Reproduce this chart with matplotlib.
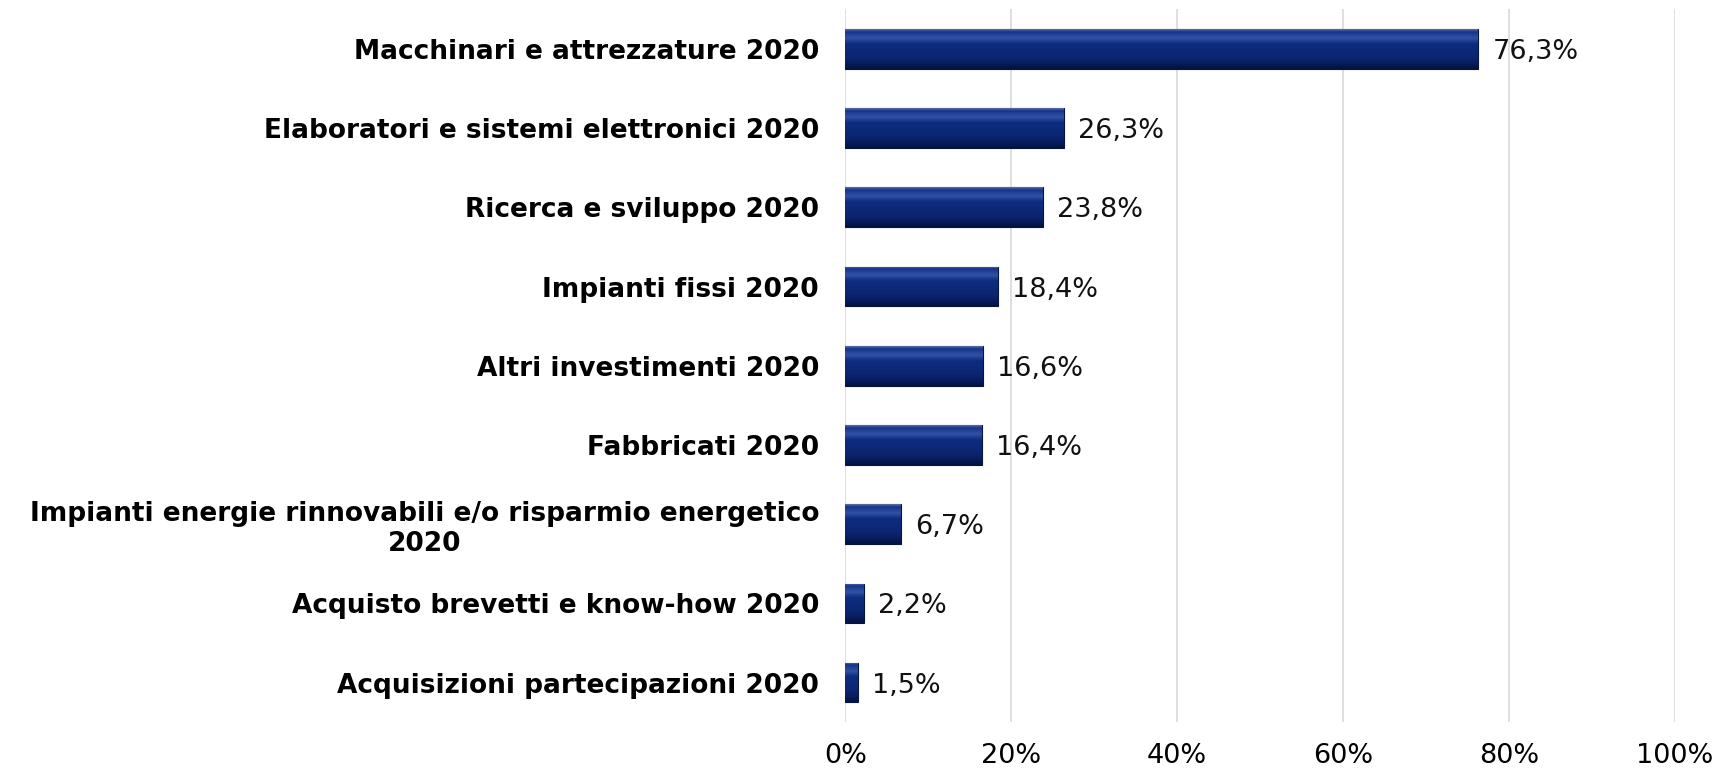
"""Horizontal bar chart: investimenti 2020 (quota % di imprese)."""
import matplotlib
matplotlib.use('Agg')
import matplotlib.pyplot as plt
import numpy as np
from matplotlib.colors import LinearSegmentedColormap

# Data
categories = [
    'Macchinari e attrezzature 2020',
    'Elaboratori e sistemi elettronici 2020',
    'Ricerca e sviluppo 2020',
    'Impianti fissi 2020',
    'Altri investimenti 2020',
    'Fabbricati 2020',
    'Impianti energie rinnovabili e/o risparmio energetico\n2020',
    'Acquisto brevetti e know-how 2020',
    'Acquisizioni partecipazioni 2020',
]
values = [76.3, 26.3, 23.8, 18.4, 16.6, 16.4, 6.7, 2.2, 1.5]
x_ticks = [0, 20, 40, 60, 80, 100]

plt.rcParams['font.family'] = ['DejaVu Sans']

fig = plt.figure(figsize=(17.15, 7.7), dpi=100)
ax = fig.add_axes([0.493, 0.062, 0.4836, 0.926])

y = np.arange(len(categories))
h = 0.5

# vertical shading of the bars (top -> bottom), imitates the bevelled look
bevel = LinearSegmentedColormap.from_list('bevel', [
    (0.00, '#5a6fa8'),
    (0.06, '#15328a'),
    (0.22, '#3252a6'),
    (0.36, '#0e2c80'),
    (0.72, '#0b2570'),
    (0.88, '#081c5a'),
    (1.00, '#041240'),
])
grad = np.linspace(0, 1, 64).reshape(-1, 1)

bars = ax.barh(y, values, height=h, color='#0b2567', edgecolor='#061440', linewidth=0.8, zorder=3)
for b in bars:
    x0, y0 = b.get_x(), b.get_y()
    im = ax.imshow(grad, cmap=bevel, aspect='auto', interpolation='bicubic',
                   extent=(x0, x0 + b.get_width(), y0 + b.get_height(), y0), zorder=3.5)
    im.set_clip_path(b)

for yi, v in zip(y, values):
    ax.text(v + 1.7, yi, f'{v:.1f}%'.replace('.', ','), va='center_baseline', ha='left',
            fontsize=19.5, color='#111111', zorder=5)

ax.set_xlim(0, 100)
ax.set_ylim(len(categories) - 0.5, -0.5)
ax.set_xticks(x_ticks)
ax.set_xticklabels([f'{t}%' for t in x_ticks], fontsize=19.5)
ax.set_yticks(y)
ax.set_yticklabels(categories, fontsize=19, fontweight='bold', ha='right')
ax.tick_params(axis='both', length=0)
ax.tick_params(axis='x', pad=15)
ax.tick_params(axis='y', pad=19)
for lbl in ax.get_yticklabels():
    lbl.set_multialignment('center')

ax.grid(axis='x', color='#d9d9d9', linewidth=1.2, zorder=0)
ax.set_axisbelow(True)
for s in ax.spines.values():
    s.set_visible(False)

fig.savefig('out.png', dpi=100)
